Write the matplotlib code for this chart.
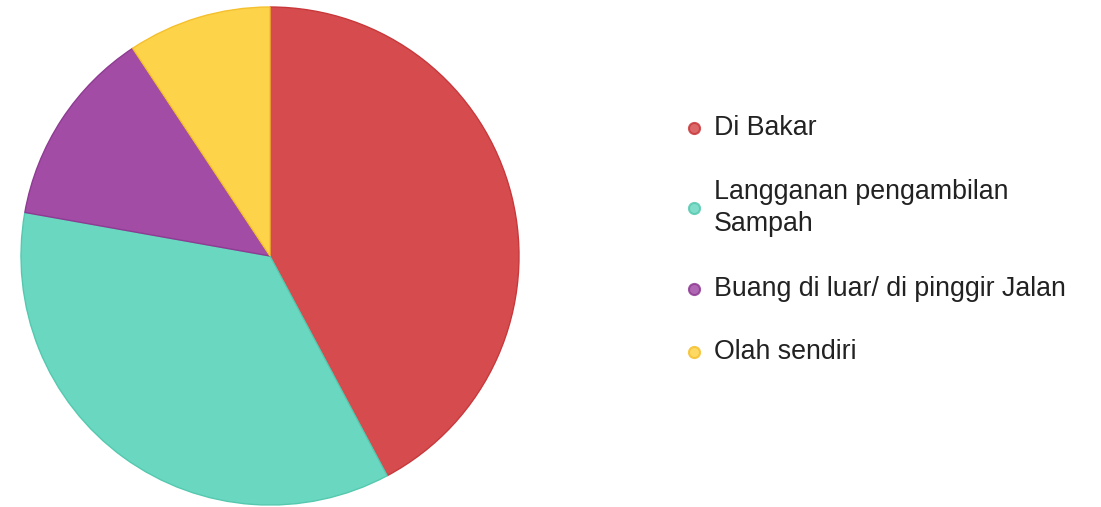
import matplotlib
matplotlib.use('Agg')

import matplotlib.pyplot as plt

plt.rcParams['font.family'] = ['Liberation Sans', 'DejaVu Sans']

# Cara pembuangan sampah (persen responden)
labels = ['Di Bakar', 'Langganan pengambilan\nSampah', 'Buang di luar/ di pinggir Jalan', 'Olah sendiri']
shares = [42.2, 35.6, 12.9, 9.3]
colors = ['#D64C4E', '#6AD8C0', '#A24CA6', '#FDD349']
edges = ['#C8383B', '#55C9AF', '#8E3B93', '#F5C02E']

W, H = 1101, 507
fig = plt.figure(figsize=(W / 100, H / 100), dpi=100)

cx, cy, r = 270, 256, 249
ax = fig.add_axes([(cx - r) / W, (H - cy - r) / H, 2 * r / W, 2 * r / H])
wedges, _ = ax.pie(shares, colors=colors, startangle=90, counterclock=False,
                   radius=1.0, wedgeprops=dict(linewidth=1.0))
for w, ec in zip(wedges, edges):
    w.set_edgecolor(ec)
ax.set_xlim(-1.0, 1.0)
ax.set_ylim(-1.0, 1.0)
ax.set_aspect('auto')
ax.axis('off')

# legend drawn by hand: marker + label, y position in pixels from top
leg_y = [128, 208, 289, 352]
mx, tx = 694, 714
for lab, col, ec, y in zip(labels, colors, edges, leg_y):
    fy = 1 - y / H
    fig.lines.append(plt.Line2D([mx / W], [fy], transform=fig.transFigure,
                                marker='o', markersize=8, markerfacecolor=col,
                                markeredgecolor=ec, markeredgewidth=1.5,
                                alpha=0.85, linestyle='none'))
    fig.text(tx / W, fy, lab, ha='left', va='center', fontsize=19.3,
             color='#222222', linespacing=1.32)

fig.savefig('out.png', dpi=100)
